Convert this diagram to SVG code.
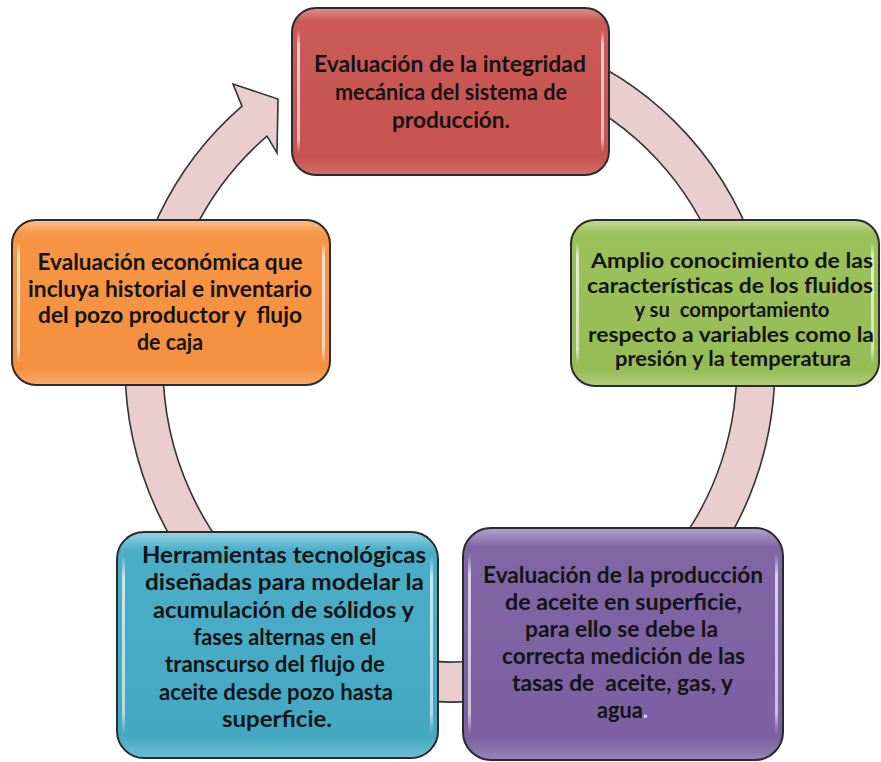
<svg xmlns="http://www.w3.org/2000/svg" width="881" height="762" viewBox="0 0 881 762">
<style>
.box{stroke:#2b2b2b;stroke-width:2}
.hi{fill:url(#sideHi)}
.t{font-family:Lato,'Liberation Sans',sans-serif;font-weight:700;font-size:22.5px;fill:#141414;text-anchor:middle}
.g{font-size:21.5px}
.ring{fill:#E9CDCF;stroke:#333333;stroke-width:1.6;stroke-linejoin:miter}
</style>
<defs>
<linearGradient id="gRed" x1="0" y1="0" x2="0" y2="1"><stop offset="0" stop-color="#E38E8A"/><stop offset="0.08" stop-color="#CB5A57"/><stop offset="0.9" stop-color="#C6524F"/><stop offset="1" stop-color="#D46F6B"/></linearGradient>
<linearGradient id="gGreen" x1="0" y1="0" x2="0" y2="1"><stop offset="0" stop-color="#C6DC98"/><stop offset="0.08" stop-color="#9CC05A"/><stop offset="0.9" stop-color="#97BB55"/><stop offset="1" stop-color="#AECB7A"/></linearGradient>
<linearGradient id="gOrange" x1="0" y1="0" x2="0" y2="1"><stop offset="0" stop-color="#FCC292"/><stop offset="0.08" stop-color="#F79646"/><stop offset="0.9" stop-color="#F4903F"/><stop offset="1" stop-color="#F8AB6C"/></linearGradient>
<linearGradient id="gBlue" x1="0" y1="0" x2="0" y2="1"><stop offset="0" stop-color="#96D4E4"/><stop offset="0.08" stop-color="#4BAEC8"/><stop offset="0.9" stop-color="#45A8C2"/><stop offset="1" stop-color="#6CBED3"/></linearGradient>
<linearGradient id="gPurple" x1="0" y1="0" x2="0" y2="1"><stop offset="0" stop-color="#B5A1D2"/><stop offset="0.08" stop-color="#8166A6"/><stop offset="0.9" stop-color="#7C60A1"/><stop offset="1" stop-color="#9782BA"/></linearGradient>
<linearGradient id="sideHi" x1="0" y1="0" x2="0" y2="1"><stop offset="0" stop-color="#ffffff" stop-opacity="0"/><stop offset="0.12" stop-color="#ffffff" stop-opacity="0.7"/><stop offset="0.88" stop-color="#ffffff" stop-opacity="0.6"/><stop offset="1" stop-color="#ffffff" stop-opacity="0"/></linearGradient>
</defs>
<rect width="881" height="762" fill="#ffffff"/>
<g id="connectors">
<path class="ring" d="M 560 47.9 A 325 337 0 1 1 242 106.1 L 233 84 L 278 99 L 277 153 L 267 136.2 A 287 297 0 1 0 560 90.7 Z"/>
</g>
<g id="node-integridad">
<rect class="box" x="292" y="8" width="317" height="167" rx="24" fill="url(#gRed)"/>
<rect class="hi" x="297" y="30" width="3" height="123"/>
<rect class="hi" x="601" y="30" width="3" height="123"/>
<text class="t" x="450" y="72" textLength="272" lengthAdjust="spacingAndGlyphs">Evaluación de la integridad</text>
<text class="t" x="451" y="100" textLength="232" lengthAdjust="spacingAndGlyphs">mecánica del sistema de</text>
<text class="t" x="451" y="128" textLength="118" lengthAdjust="spacingAndGlyphs">producción.</text>
</g>
<g id="node-fluidos">
<rect class="box" x="571" y="220" width="308" height="166" rx="24" fill="url(#gGreen)"/>
<rect class="hi" x="576" y="242" width="3" height="122"/>
<rect class="hi" x="871" y="242" width="3" height="122"/>
<text class="t g" x="732" y="268" textLength="282" lengthAdjust="spacingAndGlyphs">Amplio conocimiento de las</text>
<text class="t g" x="730" y="292.5" textLength="286" lengthAdjust="spacingAndGlyphs">características de los fluidos</text>
<text class="t g" x="732" y="317" textLength="195" lengthAdjust="spacingAndGlyphs" xml:space="preserve">y su  comportamiento</text>
<text class="t g" x="731" y="341.5" textLength="286" lengthAdjust="spacingAndGlyphs">respecto a variables como la</text>
<text class="t g" x="733" y="366" textLength="236" lengthAdjust="spacingAndGlyphs">presión y la temperatura</text>
</g>
<g id="node-economica">
<rect class="box" x="12" y="220" width="318" height="165" rx="24" fill="url(#gOrange)"/>
<rect class="hi" x="17" y="242" width="3" height="121"/>
<rect class="hi" x="322" y="242" width="3" height="121"/>
<text class="t" x="170" y="270" textLength="265" lengthAdjust="spacingAndGlyphs">Evaluación económica que</text>
<text class="t" x="170" y="296.5" textLength="284" lengthAdjust="spacingAndGlyphs">incluya historial e inventario</text>
<text class="t" x="170" y="323" textLength="264" lengthAdjust="spacingAndGlyphs" xml:space="preserve">del pozo productor y  flujo</text>
<text class="t" x="170" y="349.5" textLength="66" lengthAdjust="spacingAndGlyphs">de caja</text>
</g>
<g id="node-herramientas">
<rect class="box" x="117" y="532" width="321" height="226" rx="27" fill="url(#gBlue)"/>
<rect class="hi" x="122" y="556" width="3" height="178"/>
<rect class="hi" x="430" y="556" width="3" height="178"/>
<text class="t" x="284" y="563" textLength="284" lengthAdjust="spacingAndGlyphs">Herramientas tecnológicas</text>
<text class="t" x="284.5" y="590.3" textLength="279" lengthAdjust="spacingAndGlyphs">diseñadas para modelar la</text>
<text class="t" x="283.5" y="617.7" textLength="261" lengthAdjust="spacingAndGlyphs">acumulación de sólidos y</text>
<text class="t" x="285" y="645" textLength="183" lengthAdjust="spacingAndGlyphs">fases alternas en el</text>
<text class="t" x="275" y="672.3" textLength="220" lengthAdjust="spacingAndGlyphs">transcurso del flujo de</text>
<text class="t" x="276" y="699.7" textLength="234" lengthAdjust="spacingAndGlyphs">aceite desde pozo hasta</text>
<text class="t" x="277" y="727" textLength="110" lengthAdjust="spacingAndGlyphs">superficie.</text>
</g>
<g id="node-produccion">
<rect class="box" x="463" y="528" width="320" height="232" rx="28" fill="url(#gPurple)"/>
<rect class="hi" x="468" y="553" width="3" height="182"/>
<rect class="hi" x="775" y="553" width="3" height="182"/>
<text class="t" x="623" y="583" textLength="280" lengthAdjust="spacingAndGlyphs">Evaluación de la producción</text>
<text class="t" x="623.5" y="610" textLength="237" lengthAdjust="spacingAndGlyphs">de aceite en superficie,</text>
<text class="t" x="621.5" y="637" textLength="193" lengthAdjust="spacingAndGlyphs">para ello se debe la</text>
<text class="t" x="623.5" y="664" textLength="243" lengthAdjust="spacingAndGlyphs">correcta medición de las</text>
<text class="t" x="622.5" y="691" textLength="221" lengthAdjust="spacingAndGlyphs" xml:space="preserve">tasas de  aceite, gas, y</text>
<text class="t" x="622.5" y="718" textLength="51" lengthAdjust="spacingAndGlyphs">agua<tspan fill="#E4DAF2">.</tspan></text>
</g>
</svg>
